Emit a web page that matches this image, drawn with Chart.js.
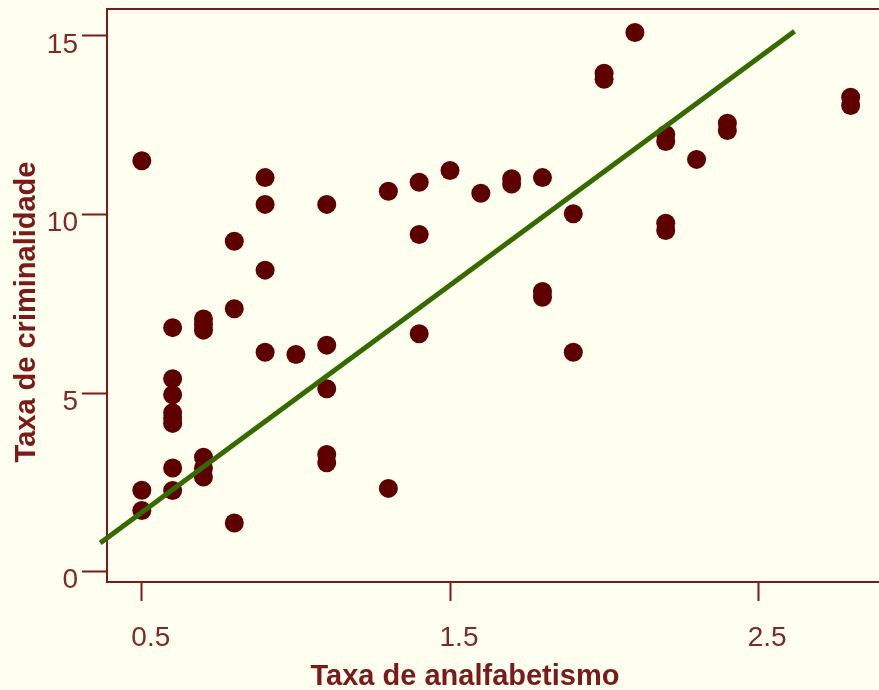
<!DOCTYPE html>
<html>
<head>
<meta charset="utf-8">
<script src="https://cdn.jsdelivr.net/npm/chart.js@4/dist/chart.umd.min.js"></script>
<style>
  html, body { margin: 0; padding: 0; background: #fffff0; overflow: hidden; }
  #wrap { width: 879px; height: 690px; }
</style>
</head>
<body>
<div id="wrap"><canvas id="chart"></canvas></div>
<script>
// analfabetismo (x) vs criminalidade (y), one entry per state
const illiteracy = [
  0.5, 0.5, 0.5,
  0.6, 0.6, 0.6, 0.6, 0.6, 0.6, 0.6, 0.6,
  0.7, 0.7, 0.7, 0.7, 0.7, 0.7,
  0.8, 0.8, 0.8,
  0.9, 0.9, 0.9, 0.9,
  1.0,
  1.1, 1.1, 1.1, 1.1, 1.1,
  1.3, 1.3,
  1.4, 1.4, 1.4,
  1.5, 1.6, 1.7, 1.7,
  1.8, 1.8, 1.8,
  1.9, 1.9,
  2.0, 2.0, 2.1,
  2.2, 2.2, 2.2, 2.2,
  2.3, 2.4, 2.4, 2.8, 2.8
];
const murder = [
  11.5, 2.28, 1.71,
  6.83, 5.4, 4.95, 4.45, 4.3, 4.15, 2.9, 2.27,
  7.07, 6.92, 6.76, 3.2, 2.9, 2.65,
  9.25, 7.36, 1.36,
  11.03, 10.28, 8.44, 6.14,
  6.08,
  10.28, 6.34, 5.12, 3.28, 3.05,
  10.65, 2.33,
  10.9, 9.44, 6.66,
  11.23, 10.59, 11.0, 10.85,
  11.03, 7.84, 7.68,
  10.02, 6.14,
  13.95, 13.78, 15.09,
  12.24, 12.04, 9.75, 9.55,
  11.54, 12.55, 12.35, 13.28, 13.05
];

// fitted line end points
const fitX = [0.365, 2.618];
const fitY = [0.80, 15.13];

const xTicks = [0.5, 1.5, 2.5];
const xTickLabels = ["0.5", "1.5", "2.5"];
const yTicks = [0, 5, 10, 15];
const yTickLabels = ["0", "5", "10", "15"];

const xTitle = "Taxa de analfabetismo";
const yTitle = "Taxa de criminalidade";

const axisColor = "#7a1a1a";
const labelColor = "#7e2a2a";
const pointColor = "#5e0000";
const lineColor = "#356a00";

const points = illiteracy.map((x, i) => ({ x: x, y: murder[i] }));
const fit = fitX.map((x, i) => ({ x: x, y: fitY[i] }));

const axisTitles = {
  id: "axisTitles",
  afterDraw(chart) {
    const ctx = chart.ctx;
    ctx.save();
    ctx.fillStyle = axisColor;
    ctx.font = 'bold 29px "Liberation Sans", Arial, sans-serif';
    ctx.textAlign = "center";
    ctx.textBaseline = "alphabetic";
    ctx.fillText(xTitle, 465, 685);
    ctx.translate(35, 312);
    ctx.rotate(-Math.PI / 2);
    ctx.fillText(yTitle, 0, 0);
    ctx.restore();
  }
};

// drop the label overhang padding so the frame sits where it should
const noPad = (s) => { s.paddingTop = 0; s.paddingBottom = 0; s.paddingLeft = 0; s.paddingRight = 0; };

const tickFont = { family: '"Liberation Sans", Arial, sans-serif', size: 28 };

new Chart(document.getElementById("chart"), {
  type: "scatter",
  data: {
    datasets: [
      {
        type: "line",
        data: fit,
        borderColor: lineColor,
        borderWidth: 5,
        borderCapStyle: "butt",
        pointRadius: 0,
        fill: false,
        clip: false,
        order: 0
      },
      {
        data: points,
        backgroundColor: pointColor,
        borderWidth: 0,
        pointRadius: 9.5,
        pointHoverRadius: 9.5,
        order: 1
      }
    ]
  },
  options: {
    responsive: true,
    maintainAspectRatio: false,
    animation: false,
    layout: { autoPadding: false, padding: { top: 9, left: 0, right: 0, bottom: 0 } },
    plugins: { legend: { display: false }, tooltip: { enabled: false } },
    scales: {
      x: {
        type: "linear",
        min: 0.387,
        max: 2.892,
        afterBuildTicks: (s) => { s.ticks = xTicks.map((v) => ({ value: v })); },
        afterFit: (s) => { s.height = 108; noPad(s); },
        ticks: {
          color: labelColor,
          font: tickFont,
          padding: 20,
          labelOffset: 9,
          maxRotation: 0,
          callback: (v) => xTickLabels[xTicks.indexOf(v)]
        },
        grid: { drawOnChartArea: false, color: axisColor, tickLength: 19, tickWidth: 2 },
        border: { display: true, color: axisColor, width: 2 }
      },
      top: {
        type: "linear",
        axis: "x",
        position: "top",
        min: 0.387,
        max: 2.892,
        afterFit: (s) => { s.height = 0; noPad(s); },
        ticks: { display: false },
        grid: { display: false, drawTicks: false },
        border: { display: true, color: axisColor, width: 2 }
      },
      y: {
        type: "linear",
        min: -0.29,
        max: 15.75,
        afterBuildTicks: (s) => { s.ticks = yTicks.map((v) => ({ value: v })); },
        afterFit: (s) => { s.width = 107; noPad(s); },
        ticks: {
          color: labelColor,
          font: tickFont,
          padding: 4,
          labelOffset: 9,
          callback: (v) => yTickLabels[yTicks.indexOf(v)]
        },
        grid: { drawOnChartArea: false, color: axisColor, tickLength: 25, tickWidth: 2 },
        border: { display: true, color: axisColor, width: 2 }
      }
    }
  },
  plugins: [axisTitles]
});
</script>
</body>
</html>
